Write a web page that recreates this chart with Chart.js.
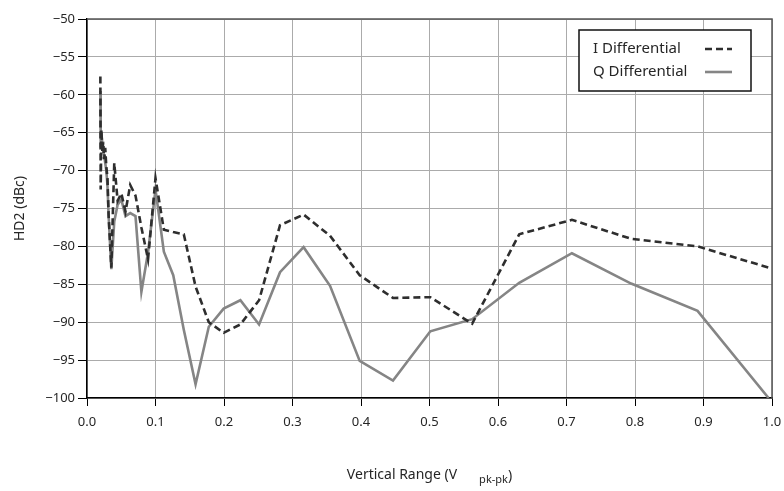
<!DOCTYPE html>
<html>
<head>
<meta charset="utf-8">
<title>HD2 vs Vertical Range</title>
<script src="https://cdn.jsdelivr.net/npm/chart.js@4/dist/chart.umd.min.js"></script>
<style>
  html, body { margin: 0; padding: 0; background: #ffffff; }
  #wrap { width: 784px; height: 491px; }
</style>
</head>
<body>
<div id="wrap"><canvas id="c" width="784" height="491"></canvas></div>
<script>
// Vertical range setting (V pk-pk), shared by both channels
const vRange = [0.0195, 0.0200, 0.0210, 0.0224, 0.0237, 0.0251, 0.0266, 0.0282, 0.0299, 0.0316,
  0.0355, 0.0398, 0.0447, 0.0501, 0.0562, 0.0631, 0.0708, 0.0794, 0.0891, 0.1000,
  0.1122, 0.1259, 0.1413, 0.1585, 0.1778, 0.1995, 0.2239, 0.2512, 0.2818, 0.3162,
  0.3548, 0.3981, 0.4467, 0.5012, 0.5623, 0.6310, 0.7079, 0.7943, 0.8913, 0.9950];

// Second harmonic distortion, I channel (dBc)
const hd2I = [-57.6, -72.5, -64.6, -67.5, -66.2, -68.5, -67.0, -69.5, -71.0, -76.0,
  -82.8, -69.0, -74.0, -73.0, -75.4, -71.9, -73.3, -77.5, -81.7, -71.0,
  -77.8, -78.1, -78.4, -85.3, -90.0, -91.4, -90.3, -87.1, -77.2, -75.8,
  -78.6, -83.8, -86.8, -86.7, -90.2, -78.4, -76.5, -79.0, -80.0, -82.8];

// Second harmonic distortion, Q channel (dBc)
const hd2Q = [-59.5, -67.0, -65.0, -66.5, -67.5, -68.0, -69.0, -70.0, -72.0, -76.0,
  -83.0, -76.7, -74.5, -73.8, -76.0, -75.6, -76.0, -86.0, -80.8, -72.5,
  -80.7, -83.8, -91.0, -98.2, -90.6, -88.2, -87.1, -90.3, -83.4, -80.1,
  -85.2, -95.1, -97.7, -91.2, -89.6, -84.8, -80.9, -84.9, -88.5, -100.0];

const seriesNames = ['I Differential', 'Q Differential'];
const xTitle = 'Vertical Range (V';
const xTitleSub = 'pk-pk';
const yTitle = 'HD2 (dBc)';

const FONT = '"Noto Sans", "Open Sans", sans-serif';
const TEXT = '#262626';

function pairs(xs, ys) { return xs.map((x, i) => ({ x: x, y: ys[i] })); }

// Frame, axis titles and boxed legend drawn on top of the chart area
const decor = {
  id: 'decor',
  afterDraw(chart) {
    const ctx = chart.ctx;
    const a = chart.chartArea;
    ctx.save();
    // top and right frame
    ctx.strokeStyle = '#555555';
    ctx.lineWidth = 1.5;
    ctx.beginPath();
    ctx.moveTo(a.left, a.top);
    ctx.lineTo(a.right, a.top);
    ctx.lineTo(a.right, a.bottom);
    ctx.stroke();

    // x-axis title with subscript
    ctx.fillStyle = TEXT;
    ctx.textBaseline = 'alphabetic';
    ctx.font = '14px ' + FONT;
    const mainW = ctx.measureText(xTitle).width;
    ctx.font = '11px ' + FONT;
    const subW = ctx.measureText(xTitleSub).width;
    ctx.font = '14px ' + FONT;
    const parW = ctx.measureText(')').width;
    const gap = 22;
    const total = mainW + gap + subW + parW;
    const cx = (a.left + a.right) / 2;
    const x0 = cx - total / 2;
    const base = 479;
    ctx.textAlign = 'left';
    ctx.fillText(xTitle, x0, base);
    ctx.font = '11px ' + FONT;
    ctx.fillText(xTitleSub, x0 + mainW + gap, base + 4);
    ctx.font = '14px ' + FONT;
    ctx.fillText(')', x0 + mainW + gap + subW, base + 1);

    // y-axis title
    ctx.save();
    ctx.translate(20, (a.top + a.bottom) / 2);
    ctx.rotate(-Math.PI / 2);
    ctx.textAlign = 'center';
    ctx.textBaseline = 'middle';
    ctx.font = '14px ' + FONT;
    ctx.fillText(yTitle, 0, 0);
    ctx.restore();

    // legend box
    const bx = a.right - 193, by = a.top + 11, bw = 172, bh = 61;
    ctx.fillStyle = '#ffffff';
    ctx.fillRect(bx, by, bw, bh);
    ctx.strokeStyle = '#111111';
    ctx.lineWidth = 1.5;
    ctx.strokeRect(bx, by, bw, bh);
    ctx.font = '15px ' + FONT;
    ctx.fillStyle = TEXT;
    ctx.textAlign = 'left';
    ctx.textBaseline = 'middle';
    chart.data.datasets.forEach((ds, i) => {
      const ty = by + 19 + i * 23;
      ctx.fillText(ds.label, bx + 14, ty);
      ctx.strokeStyle = ds.borderColor;
      ctx.lineWidth = ds.borderWidth;
      ctx.setLineDash(ds.borderDash || []);
      ctx.beginPath();
      ctx.moveTo(bx + 126, ty);
      ctx.lineTo(bx + 153, ty);
      ctx.stroke();
      ctx.setLineDash([]);
    });
    ctx.restore();
  }
};

new Chart(document.getElementById('c'), {
  type: 'line',
  data: {
    datasets: [
      {
        label: seriesNames[0],
        data: pairs(vRange, hd2I),
        borderColor: '#2e2e2e',
        borderWidth: 2.6,
        borderDash: [7, 4],
        pointRadius: 0,
        tension: 0,
        order: 0
      },
      {
        label: seriesNames[1],
        data: pairs(vRange, hd2Q),
        borderColor: '#858585',
        borderWidth: 2.6,
        pointRadius: 0,
        tension: 0,
        order: 1
      }
    ]
  },
  options: {
    responsive: false,
    animation: false,
    devicePixelRatio: 1,
    layout: { padding: { top: 19, right: 12, left: 0, bottom: 0 } },
    plugins: { legend: { display: false }, tooltip: { enabled: false } },
    scales: {
      x: {
        type: 'linear',
        min: 0, max: 1,
        afterFit: s => { s.height = 93; s.paddingLeft = 0; s.paddingRight = 0; },
        grid: { color: '#ababab', lineWidth: 1, tickLength: 8, tickColor: '#000000' },
        border: { color: '#000000', width: 1.5 },
        ticks: {
          stepSize: 0.1,
          color: TEXT,
          font: { family: FONT, size: 13 },
          padding: 8,
          maxRotation: 0,
          callback: v => v.toFixed(1)
        }
      },
      y: {
        type: 'linear',
        min: -100, max: -50,
        afterFit: s => { s.width = 87; s.paddingTop = 0; s.paddingBottom = 0; },
        grid: { color: '#ababab', lineWidth: 1, tickLength: 9, tickColor: '#000000' },
        border: { color: '#000000', width: 1.5 },
        ticks: {
          stepSize: 5,
          color: TEXT,
          font: { family: FONT, size: 13 },
          padding: 3,
          callback: v => String(v).replace('-', '\u2212')
        }
      }
    }
  },
  plugins: [decor]
});
</script>
</body>
</html>
